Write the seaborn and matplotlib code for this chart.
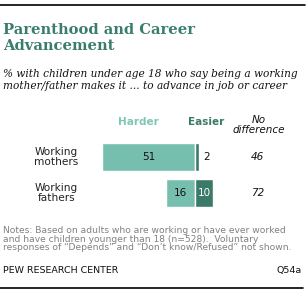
import matplotlib
matplotlib.use("Agg")
import matplotlib.pyplot as plt
import seaborn as sns
import pandas as pd
from matplotlib.lines import Line2D

categories = ["Working\nmothers", "Working\nfathers"]
harder = [51, 16]
easier = [2, 10]
no_difference = [46, 72]

sns.set_theme(style="white")
plt.rcParams['font.family'] = ['DejaVu Sans']

W, H = 308, 294
fig = plt.figure(figsize=(W / 100, H / 100), dpi=100)
fig.patch.set_facecolor("white")

def fx(x):
    return x / W

def fy(y):
    return 1 - y / H

C_HARD = "#76bfae"
C_EASY = "#3b7a68"
C_TITLE = "#3a7d6c"

# axes for bars: center at px 195, 1.8235 px per unit
ppu = 93 / 51
cx = 195
ax_l, ax_r = cx - 60 * ppu, cx + 60 * ppu
ax_t, ax_b = 139, 211
ax = fig.add_axes([fx(ax_l), fy(ax_b), (ax_r - ax_l) / W, (ax_b - ax_t) / H])

df = pd.DataFrame({"cat": categories,
                   "harder": [-v for v in harder],
                   "easier": easier})
sns.barplot(data=df, y="cat", x="harder", color=C_HARD, orient="h",
            width=0.78, ax=ax, saturation=1)
sns.barplot(data=df, y="cat", x="easier", color=C_EASY, orient="h",
            width=0.78, ax=ax, saturation=1)
ax.set_xlim(-60, 60)
ax.set_ylim(1.5, -0.5)
ax.axis("off")

for i, (h, e, nd) in enumerate(zip(harder, easier, no_difference)):
    ax.text(-h / 2, i, str(h), ha="center", va="center", fontsize=7.5, color="#111111")
    if e >= 5:
        ax.text(e / 2, i, str(e), ha="center", va="center", fontsize=7.5, color="white")
    else:
        ax.text(e + 4.5, i, str(e), ha="center", va="center", fontsize=7.5, color="#111111")
    ax.text(34.5, i, str(nd), ha="center", va="center", fontsize=7.5,
            color="#111111", style="italic")
    ax.text(-76, i, categories[i], ha="center", va="center", fontsize=7.6,
            color="#222222", linespacing=1.0, clip_on=False)

# headers
fig.text(fx(138), fy(122), "Harder", ha="center", va="center", fontsize=7.5,
         fontweight="bold", color="#7fc6b6")
fig.text(fx(206), fy(122), "Easier", ha="center", va="center", fontsize=7.5,
         fontweight="bold", color=C_EASY)
fig.text(fx(259), fy(125), "No\ndifference", ha="center", va="center", fontsize=7.5,
         style="italic", color="#111111", linespacing=1.0)

# title and subtitle
fig.text(fx(3), fy(50), "Parenthood and Career\nAdvancement", ha="left", va="baseline",
         fontsize=10.6, fontweight="bold", color=C_TITLE, family="DejaVu Serif",
         linespacing=1.2)
fig.text(fx(3), fy(89), "% with children under age 18 who say being a working\n"
         "mother/father makes it ... to advance in job or career",
         ha="left", va="baseline", fontsize=7.6, style="italic", color="#111111",
         family="DejaVu Serif", linespacing=1.2)

# notes
fig.text(fx(3), fy(250), "Notes: Based on adults who are working or have ever worked\n"
         "and have children younger than 18 (n=528).  Voluntary\n"
         "responses of \u201cDepends\u201d and \u201cDon\u2019t know/Refused\u201d not shown.",
         ha="left", va="baseline", fontsize=6.6, color="#808080", linespacing=0.9)
fig.text(fx(3), fy(273), "PEW RESEARCH CENTER", ha="left", va="baseline",
         fontsize=6.8, color="#111111")
fig.text(fx(302), fy(273), "Q54a", ha="right", va="baseline",
         fontsize=6.8, color="#111111")

# rules
fig.add_artist(Line2D([0, fx(305)], [fy(4.5), fy(4.5)], color="black", lw=1.2))
fig.add_artist(Line2D([0, fx(303)], [fy(288), fy(288)], color="black", lw=1.2))

fig.savefig("out.png", dpi=100, facecolor="white")
